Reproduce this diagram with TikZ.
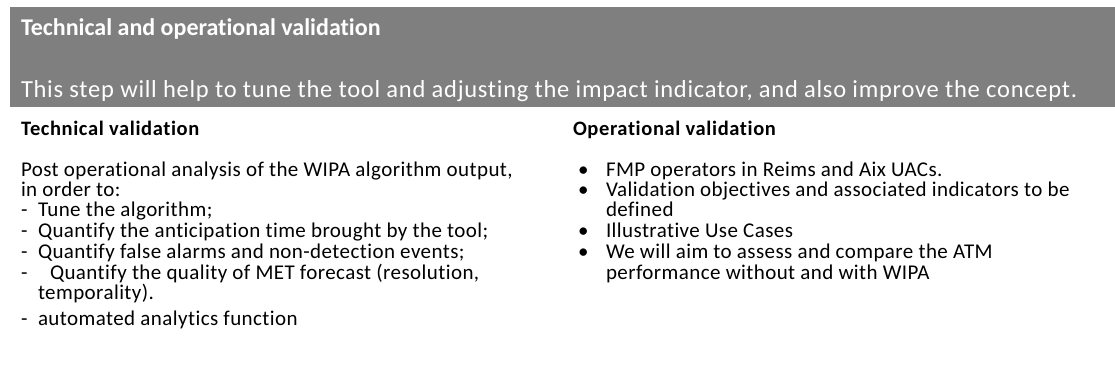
\documentclass[tikz,border=0pt]{standalone}
\usepackage{fontspec}
\setmainfont[Ligatures=NoCommon]{Carlito}
\newfontfamily\bodyfont[LetterSpace=2,Ligatures=NoCommon]{Carlito}
\newfontfamily\headfont[LetterSpace=3,Ligatures=NoCommon]{Carlito}
\newfontfamily\subfont[LetterSpace=3,Ligatures=NoCommon]{Carlito}
\definecolor{bandgrey}{HTML}{7F7F7F}
\begin{document}
\begin{tikzpicture}[x=1pt,y=-1pt,
  txt/.style={anchor=base west,inner sep=0pt,outer sep=0pt,font=\bodyfont\fontsize{21}{24}\selectfont},
  head/.style={txt,font=\headfont\fontsize{20.5}{24}\selectfont\bfseries},
  bandtitle/.style={txt,text=white,font=\fontsize{24}{28}\selectfont\bfseries},
  bandtext/.style={txt,text=white,font=\subfont\fontsize{24.5}{29}\selectfont}]
\useasboundingbox (0,0) rectangle (1115,376);
\fill[bandgrey] (10,7) rectangle (1115,107);
\node[bandtitle] (title) at (21,35) {Technical and operational validation};
\node[bandtext] (sub) at (21,97) {This step will help to tune the tool and adjusting the impact indicator, and also improve the concept.};
% left column
\node[head] (tv) at (21,135) {Technical validation};
\node[txt] (l1) at (21,176) {Post operational analysis of the WIPA algorithm output,};
\node[txt] (l2) at (21,196) {in order to:};
\node[txt] (d1) at (21,216) {-};
\node[txt] (t1) at (38,216) {Tune the algorithm;};
\node[txt] (d2) at (21,237) {-};
\node[txt] (t2) at (38,237) {Quantify the anticipation time brought by the tool;};
\node[txt] (d3) at (21,258) {-};
\node[txt] (t3) at (38,258) {Quantify false alarms and non-detection events;};
\node[txt] (d4) at (21,279) {-};
\node[txt] (t4) at (50,279) {Quantify the quality of MET forecast (resolution,};
\node[txt] (t4b) at (38,299) {temporality).};
\node[txt] (d5) at (21,325) {-};
\node[txt] (t5) at (38,325) {automated analytics function};
% right column
\node[head] (ov) at (573,135) {Operational validation};
\node[txt] (b1) at (578,176) {•};
\node[txt] (r1) at (606,176) {FMP operators in Reims and Aix UACs.};
\node[txt] (b2) at (578,196) {•};
\node[txt] (r2) at (606,196) {Validation objectives and associated indicators to be};
\node[txt] (r2b) at (606,216) {defined};
\node[txt] (b3) at (578,237) {•};
\node[txt] (r3) at (606,237) {Illustrative Use Cases};
\node[txt] (b4) at (578,258) {•};
\node[txt] (r4) at (606,258) {We will aim to assess and compare the ATM};
\node[txt] (r4b) at (606,279) {performance without and with WIPA};
\end{tikzpicture}
\end{document}
